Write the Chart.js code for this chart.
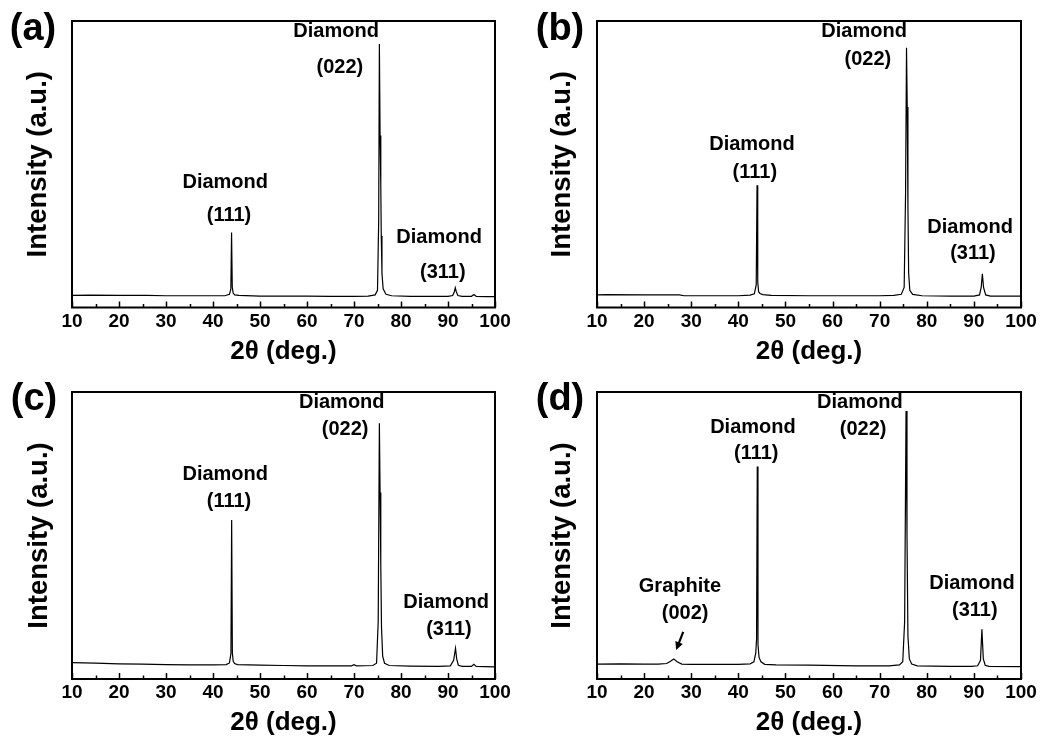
<!DOCTYPE html>
<html><head><meta charset="utf-8">
<script src="https://cdn.jsdelivr.net/npm/chart.js@4/dist/chart.umd.min.js"></script>
<style>
html,body{margin:0;padding:0;background:#fff;}
#wrap{position:relative;width:1041px;height:738px;overflow:hidden;background:#fff;}
canvas{position:absolute;}
</style></head><body>
<div id="wrap">
<canvas id="ca" width="520" height="369" style="left:0px;top:0px"></canvas>
<canvas id="cb" width="521" height="369" style="left:520px;top:0px"></canvas>
<canvas id="cc" width="520" height="369" style="left:0px;top:369px"></canvas>
<canvas id="cd" width="521" height="369" style="left:520px;top:369px"></canvas>
</div>
<script>
// ---------- data ----------
const xTickValues = [10, 20, 30, 40, 50, 60, 70, 80, 90, 100];
const xMinorTicks = [15, 25, 35, 45, 55, 65, 75, 85, 95];

const twoThetaA = [10, 14, 20, 26, 30, 36, 40, 42.5, 43.5, 43.8, 43.95, 44.1, 44.3, 44.6, 45.5, 50, 55, 60, 65, 70, 73, 74.5, 75.0, 75.25, 75.4, 75.55, 75.7, 75.8, 75.95, 76.2, 76.8, 78, 82, 86, 90, 91.0, 91.35, 91.55, 91.75, 92.1, 93, 95.0, 95.5, 96.0, 98, 100];
const intensityA = [4.2, 4.3, 4.2, 4.2, 4.1, 4.1, 4.1, 4.1, 4.6, 6.5, 26.2, 7, 5, 4.4, 4.2, 4.0, 4.0, 4.0, 3.9, 3.9, 4.0, 4.4, 6.0, 30, 92.0, 60, 42.7, 25, 11.9, 6.5, 4.6, 4.1, 3.9, 3.9, 3.9, 4.2, 5.5, 6.9, 5.6, 4.2, 3.9, 3.9, 4.5, 3.9, 3.8, 3.8];

const twoThetaB = [10, 12, 20, 27.5, 28.5, 35, 40, 42.5, 43.4, 43.8, 43.97, 44.12, 44.3, 44.6, 45.2, 47, 55, 65, 70, 73, 74.6, 75.2, 75.5, 75.7, 75.85, 76.0, 76.15, 76.4, 77, 79, 85, 90, 91.2, 91.55, 91.8, 92.05, 92.5, 93.5, 100];
const intensityB = [4.4, 4.5, 4.4, 4.4, 4.1, 4.1, 4.1, 4.3, 4.8, 8, 42.7, 9, 5.5, 4.9, 4.5, 4.2, 4.1, 4.1, 4.1, 4.2, 4.6, 7, 40, 90.7, 70, 35, 12, 6, 4.6, 4.1, 4.0, 4.0, 4.4, 7, 11.8, 7, 4.4, 4.0, 4.0];

const twoThetaC = [10, 15, 20, 25, 30, 35, 40, 42.8, 43.5, 43.82, 43.97, 44.12, 44.3, 44.6, 45.2, 50, 55, 60, 65, 69.5, 70, 70.5, 74.0, 74.8, 75.15, 75.4, 75.55, 75.7, 75.85, 76.1, 76.5, 77.5, 82, 88, 90.5, 91.2, 91.6, 91.85, 92.2, 93, 95.0, 95.5, 96.0, 100];
const intensityC = [5.7, 5.5, 5.3, 5.2, 5.0, 4.9, 4.9, 5.0, 5.6, 9, 55.4, 9, 6.2, 5.4, 5.0, 4.8, 4.7, 4.6, 4.6, 4.6, 5.0, 4.6, 4.7, 5.5, 20, 89.1, 65, 40, 18, 8, 5.5, 4.7, 4.5, 4.4, 4.6, 6.5, 10.7, 7, 4.8, 4.4, 4.4, 5.1, 4.4, 4.2];

const twoThetaD = [10, 15, 20, 23, 24.8, 25.6, 26.3, 27.0, 28.0, 30, 35, 40, 42.5, 43.3, 43.7, 43.87, 44.02, 44.17, 44.4, 44.8, 45.6, 48, 55, 65, 72, 74.2, 74.9, 75.3, 75.6, 75.8, 76.0, 76.3, 76.8, 78, 85, 89.5, 90.8, 91.4, 91.7, 92.0, 92.4, 93.2, 100];
const intensityD = [5.2, 5.3, 5.2, 5.2, 5.4, 6.2, 7.0, 6.0, 5.2, 5.1, 5.1, 5.1, 5.3, 6.0, 9, 14, 74.0, 12, 7.5, 6.0, 5.1, 4.9, 4.8, 4.6, 4.6, 4.9, 6, 20, 93.4, 50, 15, 7, 5.2, 4.6, 4.4, 4.4, 4.6, 6.5, 17.3, 7, 4.8, 4.4, 4.3];

// peak labels (text, 2theta, intensity position)
const notesA = [
  {text: 'Diamond', x: 66.2, y: 96.2}, {text: '(022)', x: 67.0, y: 83.9},
  {text: 'Diamond', x: 42.6, y: 43.7}, {text: '(111)', x: 43.4, y: 32.2},
  {text: 'Diamond', x: 88.1, y: 24.5}, {text: '(311)', x: 88.9, y: 12.2}
];
const notesB = [
  {text: 'Diamond', x: 66.7, y: 96.2}, {text: '(022)', x: 67.5, y: 86.7},
  {text: 'Diamond', x: 42.9, y: 57.0}, {text: '(111)', x: 43.5, y: 47.2},
  {text: 'Diamond', x: 89.2, y: 28.0}, {text: '(311)', x: 89.8, y: 18.9}
];
const notesC = [
  {text: 'Diamond', x: 67.4, y: 96.2}, {text: '(022)', x: 68.1, y: 86.8},
  {text: 'Diamond', x: 42.6, y: 71.1}, {text: '(111)', x: 43.4, y: 61.7},
  {text: 'Diamond', x: 89.6, y: 26.8}, {text: '(311)', x: 90.2, y: 17.1}
];
const notesD = [
  {text: 'Diamond', x: 65.8, y: 96.5}, {text: '(022)', x: 66.5, y: 86.8},
  {text: 'Diamond', x: 43.1, y: 87.8}, {text: '(111)', x: 43.8, y: 78.7},
  {text: 'Diamond', x: 89.6, y: 33.4}, {text: '(311)', x: 90.2, y: 23.7},
  {text: 'Graphite', x: 27.6, y: 32.1}, {text: '(002)', x: 28.7, y: 23.0}
];
const arrowsD = [{x1: 28.3, y1: 16.4, x2: 26.8, y2: 10.1}];

// ---------- drawing ----------
const FONT = '"Liberation Sans", Arial, Helvetica, sans-serif';

function decor(letter, lx, ly, notes, arrows) {
  return {
    id: 'decor' + letter,
    afterDatasetsDraw(chart) {
      const {ctx, chartArea: a, scales: {x, y}} = chart;
      ctx.save();
      ctx.strokeStyle = '#000';
      ctx.lineWidth = 2;
      ctx.strokeRect(a.left, a.top, a.right - a.left, a.bottom - a.top);
      ctx.lineWidth = 1.5;
      xTickValues.forEach(v => {
        const px = Math.round(x.getPixelForValue(v)) + 0.5;
        ctx.beginPath(); ctx.moveTo(px, a.bottom); ctx.lineTo(px, a.bottom - 6); ctx.stroke();
      });
      xMinorTicks.forEach(v => {
        const px = Math.round(x.getPixelForValue(v)) + 0.5;
        ctx.beginPath(); ctx.moveTo(px, a.bottom); ctx.lineTo(px, a.bottom - 3.5); ctx.stroke();
      });
      ctx.fillStyle = '#000';
      ctx.font = 'bold 20px ' + FONT;
      ctx.textAlign = 'center';
      ctx.textBaseline = 'middle';
      notes.forEach(n => ctx.fillText(n.text, x.getPixelForValue(n.x), y.getPixelForValue(n.y)));
      (arrows || []).forEach(ar => {
        const x1 = x.getPixelForValue(ar.x1), y1 = y.getPixelForValue(ar.y1);
        const x2 = x.getPixelForValue(ar.x2), y2 = y.getPixelForValue(ar.y2);
        const ang = Math.atan2(y2 - y1, x2 - x1);
        ctx.lineWidth = 2.2;
        ctx.beginPath(); ctx.moveTo(x1, y1);
        ctx.lineTo(x2 - 5 * Math.cos(ang), y2 - 5 * Math.sin(ang)); ctx.stroke();
        ctx.beginPath();
        ctx.moveTo(x2, y2);
        ctx.lineTo(x2 - 8 * Math.cos(ang) + 4 * Math.sin(ang), y2 - 8 * Math.sin(ang) - 4 * Math.cos(ang));
        ctx.lineTo(x2 - 8 * Math.cos(ang) - 4 * Math.sin(ang), y2 - 8 * Math.sin(ang) + 4 * Math.cos(ang));
        ctx.closePath(); ctx.fill();
      });
      ctx.font = 'bold 38px ' + FONT;
      ctx.fillText('(' + letter + ')', lx, ly);
      ctx.restore();
    }
  };
}

function makePanel(id, xs, ys, lay, letter, notes, arrows) {
  const pts = xs.map((v, i) => ({x: v, y: ys[i]}));
  return new Chart(document.getElementById(id), {
    type: 'line',
    data: {datasets: [{data: pts, borderColor: '#000', borderWidth: 1.2, pointRadius: 0, tension: 0, fill: false}]},
    options: {
      responsive: false, animation: false, devicePixelRatio: 1,
      layout: {padding: {left: 4, top: lay.top, right: lay.right, bottom: lay.bottom}},
      plugins: {legend: {display: false}, tooltip: {enabled: false}},
      scales: {
        x: {
          type: 'linear', min: 10, max: 100,
          grid: {display: false, drawTicks: false}, border: {display: false},
          afterBuildTicks: s => { s.ticks = xTickValues.map(v => ({value: v})); },
          ticks: {autoSkip: false, maxRotation: 0, padding: 2.6, color: '#000',
                  font: {family: FONT, size: 19, weight: 'bold'}},
          title: {display: true, text: '2\u03B8 (deg.)', color: '#000',
                  font: {family: FONT, size: 26, weight: 'bold', lineHeight: 1},
                  padding: {top: 3, bottom: 0}}
        },
        y: {
          min: 0, max: 100,
          grid: {display: false, drawTicks: false}, border: {display: false},
          ticks: {display: false},
          title: {display: true, text: 'Intensity (a.u.)', color: '#000',
                  font: {family: FONT, size: 27.5, weight: 'bold'},
                  padding: {top: lay.yt, bottom: lay.yb}}
        }
      }
    },
    plugins: [decor(letter, lay.lx, lay.ly, notes, arrows)]
  });
}

makePanel('ca', twoThetaA, intensityA, {top: 21, right: 25, bottom: 4.5, yt: 17.5, yb: 17.5, lx: 33, ly: 30}, 'a', notesA);
makePanel('cb', twoThetaB, intensityB, {top: 21, right: 20, bottom: 4.5, yt: 22, yb: 18, lx: 40, ly: 30}, 'b', notesB);
makePanel('cc', twoThetaC, intensityC, {top: 23, right: 25, bottom: 2, yt: 18.5, yb: 16.5, lx: 34, ly: 31}, 'c', notesC);
makePanel('cd', twoThetaD, intensityD, {top: 23, right: 20, bottom: 2, yt: 22, yb: 18, lx: 40, ly: 31}, 'd', notesD, arrowsD);
</script>
</body></html>
